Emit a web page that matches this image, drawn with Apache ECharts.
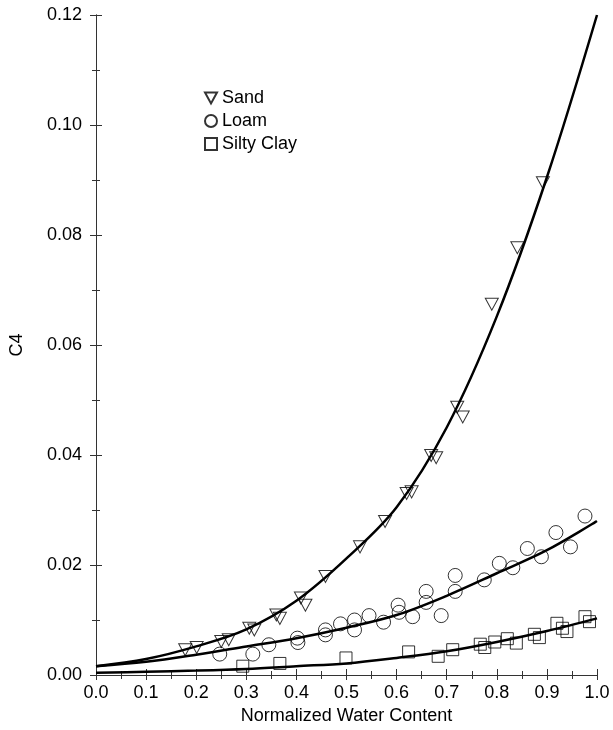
<!DOCTYPE html>
<html>
<head>
<meta charset="utf-8">
<script src="https://cdn.jsdelivr.net/npm/echarts@6/dist/echarts.min.js"></script>
<style>
html,body{margin:0;padding:0;background:#fff;}
#chart{width:613px;height:730px;}
</style>
</head>
<body>
<div id="chart"></div>
<script>
// ---- Data ----
var sandX = [0.178,0.201,0.250,0.265,0.306,0.316,0.360,0.367,0.409,0.418,0.458,0.527,0.577,0.620,0.630,0.669,0.679,0.721,0.732,0.790,0.841,0.892];
var sandY = [0.0046,0.0050,0.0061,0.0064,0.0085,0.0082,0.0109,0.0103,0.0140,0.0127,0.0179,0.0233,0.0279,0.0330,0.0333,0.0399,0.0395,0.0487,0.0469,0.0674,0.0777,0.0895];

var loamX = [0.247,0.313,0.345,0.402,0.403,0.458,0.458,0.488,0.516,0.516,0.545,0.574,0.603,0.605,0.632,0.659,0.659,0.689,0.717,0.717,0.775,0.805,0.832,0.861,0.889,0.918,0.947,0.976];
var loamY = [0.0038,0.0038,0.0055,0.0067,0.0059,0.0082,0.0073,0.0093,0.0100,0.0082,0.0108,0.0096,0.0127,0.0114,0.0106,0.0152,0.0132,0.0108,0.0181,0.0152,0.0173,0.0203,0.0195,0.0230,0.0215,0.0259,0.0233,0.0289];

var siltX = [0.293,0.367,0.499,0.624,0.683,0.712,0.767,0.776,0.796,0.821,0.839,0.875,0.885,0.920,0.931,0.940,0.976,0.985];
var siltY = [0.0016,0.0021,0.0031,0.0042,0.0034,0.0046,0.0056,0.0050,0.0060,0.0066,0.0058,0.0074,0.0068,0.0094,0.0085,0.0079,0.0106,0.0097];

// fitted curves, read at x = 0.0 ... 1.0
var fitX    = [0.0,0.1,0.2,0.3,0.4,0.5,0.6,0.7,0.8,0.9,1.0];
var sandFit = [0.0016,0.0029,0.0052,0.0083,0.0135,0.0212,0.0305,0.0450,0.0652,0.0905,0.1200];
var loamFit = [0.0016,0.0024,0.0037,0.0052,0.0067,0.0086,0.0109,0.0144,0.0185,0.0227,0.0280];
var siltFit = [0.0004,0.0006,0.0008,0.0011,0.0016,0.0021,0.0031,0.0043,0.0060,0.0080,0.0103];

var seriesNames = ['Sand','Loam','Silty Clay'];
var xTitle = 'Normalized Water Content';
var yTitle = 'C4';

function pairs(xs, ys){ return xs.map(function(x,i){ return [x, ys[i]]; }); }

var FONT = '"Liberation Sans", Arial, Helvetica, sans-serif';
var hollow = {color:'rgba(255,255,255,0)', borderColor:'#000', borderWidth:1};
var triPath = 'path://M0,0 L20,0 L10,18 Z';

var chart = echarts.init(document.getElementById('chart'), null, {renderer:'canvas'});

var baseAxisLine = {show:true, lineStyle:{color:'#333', width:1}};

chart.setOption({
  animation:false,
  backgroundColor:'#fff',
  grid:{left:92, right:16, top:15, bottom:53},
  legend:{
    orient:'vertical', left:199, top:84,
    data:seriesNames,
    itemWidth:12, itemHeight:12, itemGap:5,
    textStyle:{fontFamily:FONT, fontSize:18, color:'#000', lineHeight:18},
    selectedMode:false
  },
  xAxis:[{
    type:'value', min:0, max:1, interval:0.1, position:'bottom',
    name:xTitle, nameLocation:'middle', nameGap:32,
    nameTextStyle:{fontFamily:FONT, fontSize:18, color:'#000'},
    axisLine:baseAxisLine,
    axisTick:{show:true, inside:true, length:6, lineStyle:{color:'#333'}},
    minorTick:{show:true, splitNumber:2, length:4, lineStyle:{color:'#333'}},
    axisLabel:{fontFamily:FONT, fontSize:18, color:'#000', margin:9, formatter:function(v){return v.toFixed(1);}},
    splitLine:{show:false}
  },{
    type:'value', min:0, max:1, interval:0.1, position:'top',
    axisLine:baseAxisLine,
    axisTick:{show:true, inside:true, length:5, lineStyle:{color:'#333'}},
    minorTick:{show:true, splitNumber:2, length:4, lineStyle:{color:'#333'}},
    axisLabel:{show:false}, splitLine:{show:false}
  }],
  yAxis:[{
    type:'value', min:0, max:0.12, interval:0.02, position:'left',
    name:yTitle, nameLocation:'middle', nameGap:70, nameRotate:90,
    nameTextStyle:{fontFamily:FONT, fontSize:18, color:'#000'},
    axisLine:baseAxisLine,
    axisTick:{show:true, inside:true, length:6, lineStyle:{color:'#333'}},
    minorTick:{show:true, splitNumber:2, length:4, lineStyle:{color:'#333'}},
    axisLabel:{fontFamily:FONT, fontSize:18, color:'#000', margin:14, formatter:function(v){return v.toFixed(2);}},
    splitLine:{show:false}
  },{
    type:'value', min:0, max:0.12, interval:0.02, position:'right',
    axisLine:baseAxisLine,
    axisTick:{show:true, inside:true, length:6, lineStyle:{color:'#333'}},
    minorTick:{show:true, splitNumber:2, length:4, lineStyle:{color:'#333'}},
    axisLabel:{show:false}, splitLine:{show:false}
  }],
  series:[
    {name:'Sand fit', type:'line', data:pairs(fitX, sandFit), smooth:0.35, showSymbol:false,
     lineStyle:{color:'#000', width:2.5}, z:3, silent:true},
    {name:'Loam fit', type:'line', data:pairs(fitX, loamFit), smooth:0.35, showSymbol:false,
     lineStyle:{color:'#000', width:2.5}, z:3, silent:true},
    {name:'Silty Clay fit', type:'line', data:pairs(fitX, siltFit), smooth:0.35, showSymbol:false,
     lineStyle:{color:'#000', width:2.5}, z:3, silent:true},
    {name:'Sand', type:'scatter', data:pairs(sandX, sandY), symbol:triPath, symbolSize:[13,12],
     itemStyle:hollow, z:4},
    {name:'Loam', type:'scatter', data:pairs(loamX, loamY), symbol:'circle', symbolSize:14,
     itemStyle:hollow, z:4},
    {name:'Silty Clay', type:'scatter', data:pairs(siltX, siltY), symbol:'rect', symbolSize:12,
     itemStyle:hollow, z:4}
  ]
});
</script>
</body>
</html>
